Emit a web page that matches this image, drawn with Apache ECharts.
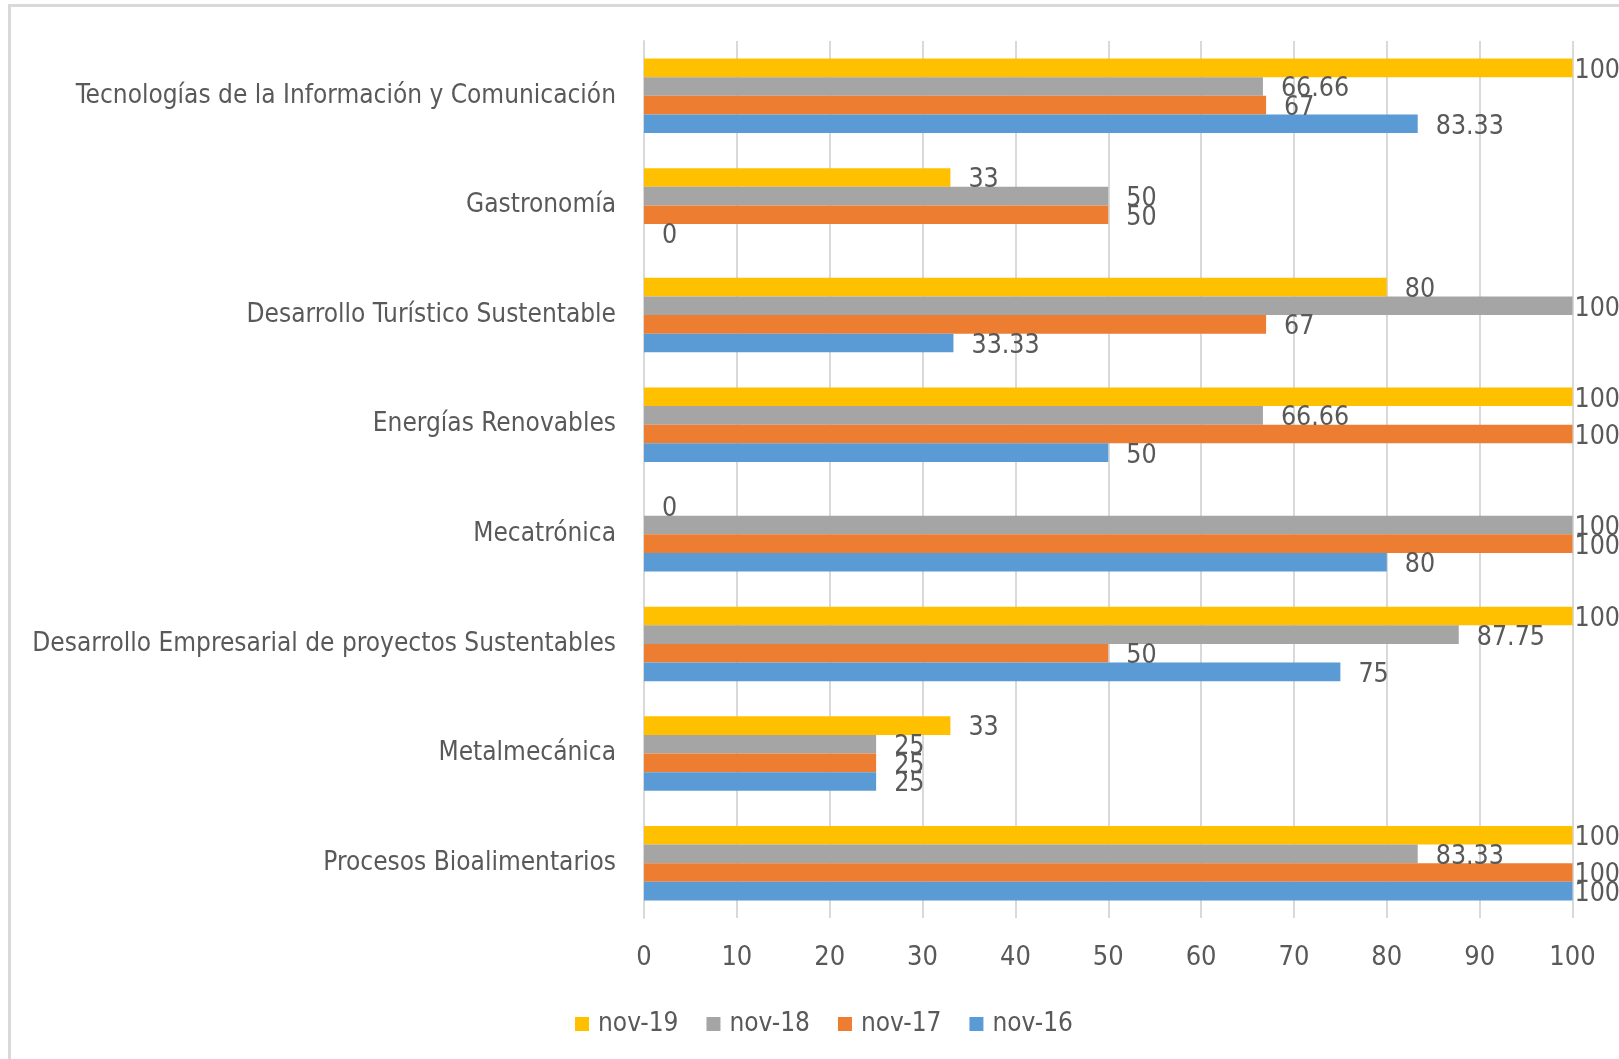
<!DOCTYPE html>
<html>
<head>
<meta charset="utf-8">
<script src="https://cdn.jsdelivr.net/npm/echarts@6/dist/echarts.min.js"></script>
<style>
html,body{margin:0;padding:0;background:#fff;}
#c{width:1619px;height:1059px;}
</style>
</head>
<body>
<div id="c"></div>
<script>
const categories = [
  "Tecnologías de la Información y Comunicación",
  "Gastronomía",
  "Desarrollo Turístico Sustentable",
  "Energías Renovables",
  "Mecatrónica",
  "Desarrollo Empresarial de proyectos Sustentables",
  "Metalmecánica",
  "Procesos Bioalimentarios"
];
const seriesNames = ["nov-19", "nov-18", "nov-17", "nov-16"];
const nov19 = [100, 33, 80, 100, 0, 100, 33, 100];
const nov18 = [66.66, 50, 100, 66.66, 100, 87.75, 25, 83.33];
const nov17 = [67, 50, 67, 100, 100, 50, 25, 100];
const nov16 = [83.33, 0, 33.33, 50, 80, 75, 25, 100];
const xTicks = [0, 10, 20, 30, 40, 50, 60, 70, 80, 90, 100];

const colors = ["#FFC000", "#A5A5A5", "#ED7D31", "#5B9BD5"];
const FONT = '"Liberation Sans Narrow", "DejaVu Sans Condensed", sans-serif';
const TXT = "#595959";

function mk(name, vals, color) {
  return {
    name: name,
    type: "bar",
    barGap: "0%",
    barCategoryGap: "32%",
    itemStyle: { color: color },
    data: vals.map(v => v >= 100 ? { value: v, label: { distance: 2 } } : v),
    label: {
      show: true,
      position: "right",
      distance: 18,
      offset: [0, 3],
      color: TXT,
      fontFamily: FONT,
      fontSize: 26.5
    },
    animation: false
  };
}

const chart = echarts.init(document.getElementById("c"), null, { renderer: "canvas" });
chart.setOption({
  animation: false,
  backgroundColor: "#ffffff",
  color: colors,
  graphic: [{
    type: "rect",
    shape: { x: 9.5, y: 5.5, width: 1700, height: 1100 },
    style: { fill: "none", stroke: "#d9d9d9", lineWidth: 3 },
    silent: true,
    z: -10
  }],
  grid: { left: 644, right: 46.5, top: 41, bottom: 141, containLabel: false, outerBoundsMode: "none" },
  legend: {
    data: seriesNames,
    left: 570,
    top: 1006,
    itemWidth: 14,
    itemHeight: 14,
    itemGap: 28,
    icon: "rect",
    textStyle: { color: TXT, fontFamily: FONT, fontSize: 26, padding: [0, 0, 0, 4] }
  },
  xAxis: {
    type: "value",
    min: xTicks[0],
    max: xTicks[xTicks.length - 1],
    interval: 10,
    axisLine: { show: false },
    axisTick: { show: false },
    splitLine: { show: true, lineStyle: { color: "#d9d9d9", width: 2 } },
    axisLabel: { color: TXT, fontFamily: FONT, fontSize: 27, margin: 26 }
  },
  yAxis: {
    type: "category",
    data: categories,
    inverse: true,
    axisLine: { show: true, lineStyle: { color: "#d9d9d9", width: 2 } },
    axisTick: { show: false },
    axisLabel: { color: TXT, fontFamily: FONT, fontSize: 26, margin: 28 }
  },
  series: [
    mk(seriesNames[0], nov19, colors[0]),
    mk(seriesNames[1], nov18, colors[1]),
    mk(seriesNames[2], nov17, colors[2]),
    mk(seriesNames[3], nov16, colors[3])
  ]
});
</script>
</body>
</html>
